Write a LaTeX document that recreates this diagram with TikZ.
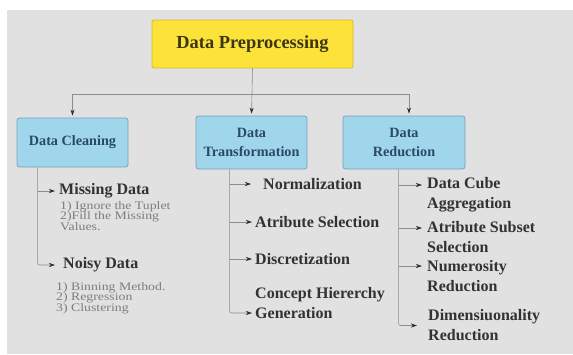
\documentclass[tikz,border=0pt]{standalone}
\usepackage{fontspec}
\setmainfont{Liberation Serif}
\newfontfamily\widefont{Liberation Serif}[FakeStretch=1.2]
\usetikzlibrary{arrows.meta}

\definecolor{paper}{RGB}{225,225,225}
\definecolor{hubyellow}{RGB}{253,226,58}
\definecolor{hubedge}{RGB}{214,186,40}
\definecolor{hubtext}{RGB}{58,54,20}
\definecolor{catblue}{RGB}{160,214,236}
\definecolor{catedge}{RGB}{122,160,180}
\definecolor{cattext}{RGB}{42,72,104}
\definecolor{itemtext}{RGB}{50,50,50}
\definecolor{subtext}{RGB}{125,125,125}
\definecolor{wiregray}{RGB}{140,140,140}
\definecolor{tipdark}{RGB}{45,45,45}

\begin{document}
\begin{tikzpicture}[x=1pt,y=-1pt,
  every node/.style={inner sep=0pt},
  hub/.style={draw=hubedge,fill=hubyellow,rounded corners=2pt,line width=.8pt,
    minimum width=201pt,minimum height=48pt,text=hubtext,
    font=\fontsize{18.4}{20}\selectfont\bfseries},
  cat/.style={draw=catedge,fill=catblue,rounded corners=2.5pt,line width=.8pt,
    align=center,text=cattext,font=\fontsize{14.2}{19}\selectfont\bfseries},
  item/.style={anchor=west,align=left,text=itemtext,
    font=\fontsize{16}{20}\selectfont\bfseries},
  sub/.style={anchor=north west,align=left,text=subtext,
    font=\widefont\fontsize{11.5}{10.5}\selectfont},
  wire/.style={draw=wiregray,line width=.6pt},
  tip/.style={wire,-{Stealth[length=6pt,width=4pt,color=tipdark,fill=tipdark]},shorten >=2pt}]
\useasboundingbox (0,0) rectangle (573,354);
\fill[paper] (7,10) rectangle (573,354);

% top of the tree
\node[hub] (pre) at (252.5,44) {Data Preprocessing};
\node[cat,minimum width=111pt,minimum height=49pt] (clean) at (72.5,142.5) {Data Cleaning};
\node[cat,minimum width=111pt,minimum height=53pt] (trans) at (251.5,142.5) {Data\\Transformation};
\node[cat,minimum width=122pt,minimum height=53pt] (red) at (404,142.5) {Data\\Reduction};

\coordinate (bus) at (252,94);
\coordinate (rdrop) at ([xshift=5pt]red.north);
\draw[wire] (pre.south) -- (bus);
\draw[wire] (clean.north |- bus) -- (rdrop |- bus);
\draw[tip] (clean.north |- bus) -- (clean.north);
\draw[tip] (bus) -- (trans.north);
\draw[tip] (rdrop |- bus) -- (rdrop);

% data cleaning
\node[item] (miss) at (59,191) {Missing Data};
\node[sub] (misssub) at (60,201) {1) Ignore the Tuplet\\2)Fill the Missing\\Values.};
\node[item] (noisy) at (63,265) {Noisy Data};
\node[sub] (noisysub) at (56,282) {1) Binning Method.\\2) Regression\\3) Clustering};
\coordinate (cs) at ([xshift=21pt]clean.south west);
\draw[tip,shorten >=4pt] (cs |- miss.west) -- (miss.west);
\draw[tip,shorten >=8pt,rounded corners=2pt] (cs) |- (noisy.west);

% data transformation
\node[item] (norm) at (263,184) {Normalization};
\node[item] (attr) at (255,222) {Atribute Selection};
\node[item] (disc) at (255,259) {Discretization};
\node[item] (conc) at (255,303.5) {Concept Hiererchy\\Generation};
\coordinate (ts) at ([xshift=34pt]trans.south west);
\coordinate (gen) at ([yshift=-9.5pt]conc.west);
\draw[tip,shorten >=12pt] (ts |- norm.west) -- (norm.west);
\draw[tip,shorten >=3pt] (ts |- attr.west) -- (attr.west);
\draw[tip,shorten >=3pt] (ts |- disc.west) -- (disc.west);
\draw[tip,shorten >=3pt,rounded corners=2pt] (ts) |- (gen);

% data reduction
\node[item] (cube) at (427,195) {Data Cube\\Aggregation};
\node[item] (subset) at (427,237.5) {Atribute Subset\\Selection};
\node[item] (numer) at (427,276) {Numerosity\\Reduction};
\node[item] (dim) at (428,325.5) {Dimensiuonality\\Reduction};
\coordinate (rs) at ([xshift=56pt]red.south west);
\coordinate (cubetop) at ([yshift=10pt]cube.west);
\coordinate (subsettop) at ([yshift=9.5pt]subset.west);
\coordinate (numertop) at ([yshift=10pt]numer.west);
\draw[tip,shorten >=5pt] (rs |- cubetop) -- (cubetop);
\draw[tip,shorten >=5pt] (rs |- subsettop) -- (subsettop);
\draw[tip,shorten >=5pt] (rs |- numertop) -- (numertop);
\draw[tip,shorten >=11pt,rounded corners=2pt] (rs) |- (dim.west);
\end{tikzpicture}
\end{document}
